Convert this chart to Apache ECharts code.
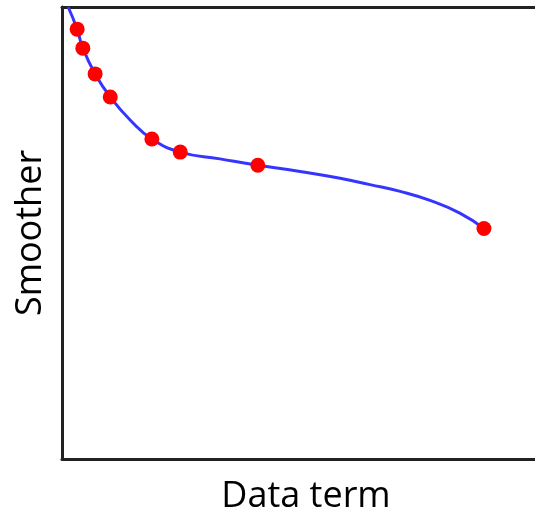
<!DOCTYPE html>
<html>
<head>
<meta charset="utf-8">
<script src="https://cdn.jsdelivr.net/npm/echarts@6/dist/echarts.min.js"></script>
<style>html,body{margin:0;padding:0;background:#fff;overflow:hidden}#c{width:535px;height:515px}</style>
</head>
<body>
<div id="c"></div>
<script>
// Red sample points (x = data term, y = smoother), normalized 0-100
const pointX = [3.2, 4.4, 7.0, 10.2, 19.0, 25.0, 41.4, 89.2];
const pointY = [95.1, 90.9, 85.2, 80.1, 70.8, 67.9, 65.0, 51.0];
// Blue trade-off curve
const curveX = [1.3, 3.2, 4.4, 7.0, 10.2, 14.4, 19.0, 25.0, 33.4, 41.4, 50.3, 58.8, 65.1, 71.5, 77.8, 84.1, 89.2];
const curveY = [100, 95.1, 90.9, 85.2, 80.1, 75.0, 70.8, 67.9, 66.4, 65.0, 63.6, 62.1, 60.7, 59.2, 57.2, 54.4, 51.0];
const xName = 'Data term';
const yName = 'Smoother';

const chart = echarts.init(document.getElementById('c'), null, {renderer: 'canvas'});
const font = '"Open Sans", "Liberation Sans", sans-serif';
const hidden = {axisTick: {show: false}, axisLabel: {show: false}, splitLine: {show: false}, splitArea: {show: false}};
chart.setOption({
  animation: false,
  backgroundColor: '#fff',
  grid: {left: 62, width: 500, top: 7, bottom: 56, show: false, outerBoundsMode: 'none', containLabel: false},
  xAxis: [
    Object.assign({
      type: 'value', min: 0, max: 105.7, position: 'bottom',
      name: xName, nameLocation: 'middle', nameGap: 20,
      nameTextStyle: {fontFamily: font, fontSize: 36, color: '#000', padding: [0, 12, 0, 0]},
      axisLine: {show: true, lineStyle: {color: '#222', width: 3}}
    }, hidden),
    Object.assign({
      type: 'value', min: 0, max: 105.7, position: 'top',
      axisLine: {show: true, lineStyle: {color: '#222', width: 3}}
    }, hidden)
  ],
  yAxis: Object.assign({
    type: 'value', min: 0, max: 100,
    name: yName, nameLocation: 'middle', nameGap: 13, nameRotate: 90,
    nameTextStyle: {fontFamily: font, fontSize: 36, color: '#000'},
    axisLine: {show: true, lineStyle: {color: '#222', width: 3}}
  }, hidden),
  series: [
    {
      type: 'line', data: curveX.map((x, i) => [x, curveY[i]]),
      smooth: 0.5, showSymbol: false, symbol: 'none',
      lineStyle: {color: '#3535ff', width: 3}, z: 2
    },
    {
      type: 'scatter', data: pointX.map((x, i) => [x, pointY[i]]),
      symbol: 'circle', symbolSize: 15,
      itemStyle: {color: '#ff0000', opacity: 1}, z: 3
    }
  ]
});
</script>
</body>
</html>
